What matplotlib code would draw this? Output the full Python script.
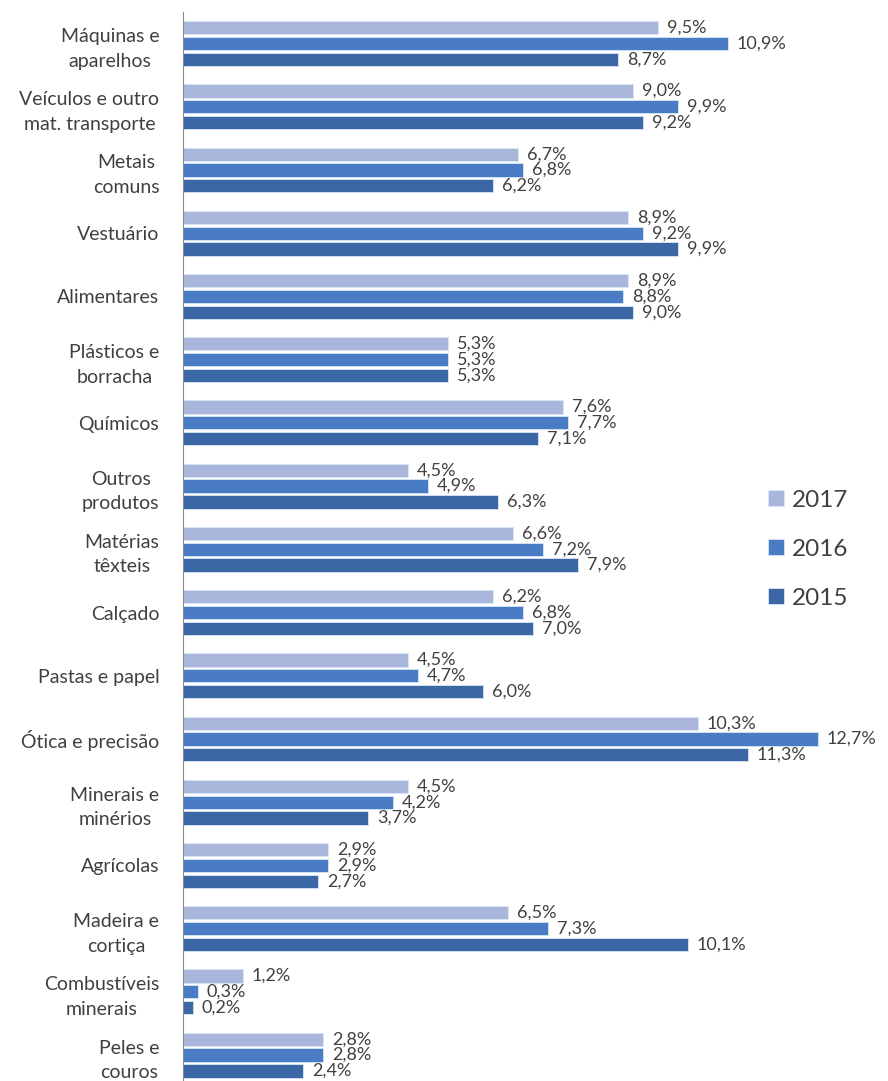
import matplotlib.pyplot as plt
import numpy as np

plt.rcParams['font.family'] = ['Lato', 'DejaVu Sans']

categorias = ["Máquinas e\naparelhos", "Veículos e outro\nmat. transporte", "Metais\ncomuns",
              "Vestuário", "Alimentares", "Plásticos e\nborracha", "Químicos",
              "Outros\nprodutos", "Matérias\ntêxteis", "Calçado", "Pastas e papel",
              "Ótica e precisão", "Minerais e\nminérios", "Agrícolas", "Madeira e\ncortiça",
              "Combustíveis\nminerais", "Peles e\ncouros"]

anos = ["2017", "2016", "2015"]
v2017 = [9.5, 9.0, 6.7, 8.9, 8.9, 5.3, 7.6, 4.5, 6.6, 6.2, 4.5, 10.3, 4.5, 2.9, 6.5, 1.2, 2.8]
v2016 = [10.9, 9.9, 6.8, 9.2, 8.8, 5.3, 7.7, 4.9, 7.2, 6.8, 4.7, 12.7, 4.2, 2.9, 7.3, 0.3, 2.8]
v2015 = [8.7, 9.2, 6.2, 9.9, 9.0, 5.3, 7.1, 6.3, 7.9, 7.0, 6.0, 11.3, 3.7, 2.7, 10.1, 0.2, 2.4]

cores = ["#aab6dc", "#4a7cc6", "#3b67a4"]
txt = "#404040"

fig = plt.figure(figsize=(8.88, 10.81), dpi=100)
ax = fig.add_axes([0.206, 0.0, 0.764, 0.989])

y = np.arange(len(categorias))
passo = 0.25
altura = 0.21

for i, (ano, vals) in enumerate(zip(anos, [v2017, v2016, v2015])):
    pos = y + (i - 1) * passo
    ax.barh(pos, vals, height=altura, color=cores[i], edgecolor="#d8e6f6",
            linewidth=0.6, label=ano)
    for p, v in zip(pos, vals):
        ax.text(v + 0.18, p, f"{v:.1f}%".replace(".", ","), va="center", ha="left",
                fontsize=13, color=txt)

ax.set_ylim(16.41, -0.5)
ax.set_xlim(0, 13.57)
ax.set_yticks(y)
ax.set_yticklabels(categorias, fontsize=14, color=txt, multialignment="center",
                   linespacing=1.55)
ax.tick_params(axis="y", length=0, pad=17)
ax.set_xticks([])

for s in ["top", "right", "bottom"]:
    ax.spines[s].set_visible(False)
ax.spines["left"].set_color("#8a8a8a")
ax.spines["left"].set_linewidth(0.8)

# legenda à direita, a meio da altura
fig.legend(loc="center left", bbox_to_anchor=(0.84, 0.492), frameon=False,
           fontsize=17.5, handlelength=0.65, handleheight=0.65, handletextpad=0.35,
           labelspacing=1.15, labelcolor=txt)

fig.savefig("out.png", dpi=100)
